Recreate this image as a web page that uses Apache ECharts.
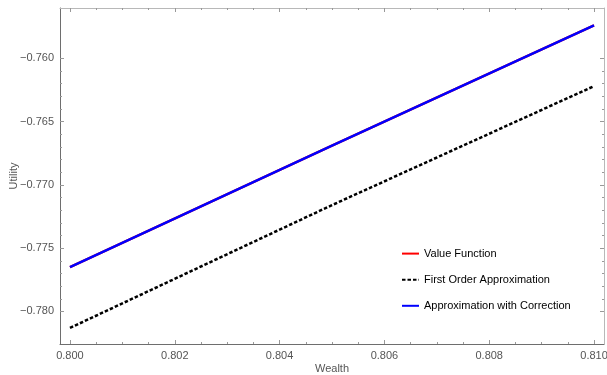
<!DOCTYPE html>
<html>
<head>
<meta charset="utf-8">
<script src="https://cdn.jsdelivr.net/npm/echarts@6/dist/echarts.min.js"></script>
<style>
  html, body { margin: 0; padding: 0; background: #fff; }
  #chart { width: 607px; height: 375px; }
</style>
</head>
<body>
<div id="chart"></div>
<script>
// Wealth grid and the three utility curves
const wealth = [0.800, 0.805, 0.810];
const valueFunction = [-0.7765, -0.7669, -0.7574];
const firstOrder = [-0.7813, -0.7716, -0.7622];
const corrected = [-0.7765, -0.7669, -0.7574];

// Tick labels
const xTicks = [0.800, 0.802, 0.804, 0.806, 0.808, 0.810];
const yTicks = [-0.780, -0.775, -0.770, -0.765, -0.760];

const xRange = [0.79981, 0.81019];
const yRange = [-0.78257, -0.75603];

// Minor ticks between the major ones
function minors(major, parts) {
  const out = [];
  for (let i = 0; i < major.length - 1; i++) {
    const step = (major[i + 1] - major[i]) / parts;
    for (let k = 1; k < parts; k++) out.push(major[i] + k * step);
  }
  return out;
}
const xMinor = minors(xTicks, 4);
const yMinor = minors(yTicks, 5);

const pair = (xs, ys) => xs.map((x, i) => [x, ys[i]]);
const fmt = v => (v < 0 ? '\u2212' : '') + Math.abs(v).toFixed(3);

const FONT = 'Liberation Sans, Arial, sans-serif';
const textStyle = { fontFamily: FONT, fontSize: 11, color: '#555' };
const dark = '#6e6e6e', light = '#b8b8b8';

function axis(kind, pos, ticks, len, lineColor, labels, extra) {
  return Object.assign({
    type: 'value',
    position: pos,
    min: kind === 'x' ? xRange[0] : yRange[0],
    max: kind === 'x' ? xRange[1] : yRange[1],
    axisLine: { show: lineColor !== null, lineStyle: { color: lineColor || '#000', width: 1 } },
    axisTick: { show: true, inside: true, length: len, customValues: ticks, lineStyle: { color: '#999', width: 1 } },
    axisLabel: labels ? Object.assign({ customValues: ticks, formatter: fmt, margin: 6 }, textStyle) : { show: false },
    splitLine: { show: false }
  }, extra || {});
}

const chart = echarts.init(document.getElementById('chart'), null, { renderer: 'canvas' });
chart.setOption({
  animation: false,
  backgroundColor: '#fff',
  grid: { left: 60, right: 3, top: 8, bottom: 31, containLabel: false, outerBoundsMode: 'none' },
  xAxis: [
    axis('x', 'bottom', xTicks, 4, dark, true, {
      name: 'Wealth', nameLocation: 'middle', nameGap: 19, nameMoveOverlap: false,
      nameTextStyle: { fontFamily: FONT, fontSize: 11, color: '#555' }
    }),
    axis('x', 'top', xTicks, 4, light, false),
    axis('x', 'bottom', xMinor, 2, null, false),
    axis('x', 'top', xMinor, 2, null, false)
  ],
  yAxis: [
    axis('y', 'left', yTicks, 4, dark, true, {
      name: 'Utility', nameLocation: 'middle', nameGap: 41, nameRotate: 90, nameMoveOverlap: false,
      nameTextStyle: { fontFamily: FONT, fontSize: 11, color: '#555' }
    }),
    axis('y', 'right', yTicks, 4, light, false),
    axis('y', 'left', yMinor, 2, null, false),
    axis('y', 'right', yMinor, 2, null, false)
  ],
  legend: {
    orient: 'vertical',
    left: 401,
    top: 248,
    padding: 0,
    itemWidth: 17,
    itemHeight: 14,
    itemGap: 14.9,
    itemStyle: { opacity: 0 },
    textStyle: { fontFamily: FONT, fontSize: 11, color: '#000' },
    data: ['Value Function', 'First Order Approximation', 'Approximation with Correction']
  },
  series: [
    {
      name: 'Value Function', type: 'line', symbol: 'none',
      data: pair(wealth, valueFunction),
      lineStyle: { color: '#ff0000', width: 2.5 }, itemStyle: { color: '#ff0000' }, z: 2
    },
    {
      name: 'First Order Approximation', type: 'line', symbol: 'none',
      data: pair(wealth, firstOrder),
      lineStyle: { color: '#000', width: 2.5, type: [3.5, 2] }, itemStyle: { color: '#000' }, z: 3
    },
    {
      name: 'Approximation with Correction', type: 'line', symbol: 'none',
      data: pair(wealth, corrected),
      lineStyle: { color: '#0000ff', width: 2.5 }, itemStyle: { color: '#0000ff' }, z: 4
    }
  ]
});
</script>
</body>
</html>
